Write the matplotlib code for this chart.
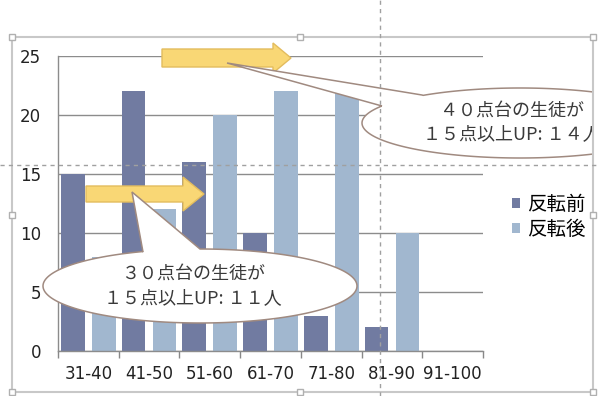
import numpy as np
import matplotlib.pyplot as plt
from matplotlib.patches import Polygon, Rectangle
from matplotlib.transforms import Affine2D

plt.rcParams['font.family'] = ['Noto Sans CJK JP', 'DejaVu Sans']

# データ
categories = ["31-40", "41-50", "51-60", "61-70", "71-80", "81-90", "91-100"]
before = [15, 22, 16, 10, 3, 2, 0]
after = [8, 12, 20, 22, 22, 10, 0]
series_names = ["反転前", "反転後"]
callout1 = ["３０点台の生徒が", "１５点以上UP: １１人"]
callout2 = ["４０点台の生徒が", "１５点以上UP: １４人"]

W, H = 599, 396
fig = plt.figure(figsize=(W / 100, H / 100), dpi=100)
fig.patch.set_facecolor("white")
px = Affine2D().scale(1 / W, 1 / H) + fig.transFigure


def P(x, y):
    # 画像座標(y下向き) -> 図のピクセル座標
    return (x, H - y)


ax = fig.add_axes([58 / W, 45 / H, 425 / W, 295 / H])
x = np.arange(len(categories))
b1 = ax.bar(x - 0.255, before, 0.39, color="#717BA1", linewidth=0, zorder=2)
b2 = ax.bar(x + 0.255, after, 0.39, color="#A1B7CF", linewidth=0, zorder=2)

ax.set_xlim(-0.5, len(categories) - 0.5)
ax.set_ylim(0, 25)
ax.set_yticks([0, 5, 10, 15, 20, 25])
ax.set_xticks(x)
ax.set_xticklabels(categories, family="DejaVu Sans")
ax.set_xticks(np.arange(-0.5, len(categories)), minor=True)
ax.tick_params(axis="x", which="major", length=0, pad=10, labelsize=12, colors="#222222")
ax.tick_params(axis="x", which="minor", length=5, width=1, color="#888888", direction="out")
ax.tick_params(axis="y", length=0, pad=12, labelsize=12, colors="#222222")
for lab in ax.get_yticklabels():
    lab.set_family("DejaVu Sans")
ax.grid(axis="y", color="#8C8C8C", linewidth=1, zorder=0)
ax.set_axisbelow(True)
for s in ["top", "right"]:
    ax.spines[s].set_visible(False)
for s in ["left", "bottom"]:
    ax.spines[s].set_color("#8C8C8C")
    ax.spines[s].set_linewidth(1)

ax.legend([b1, b2], series_names, loc="upper left", bbox_to_anchor=(502, H - 184),
          bbox_transform=px, frameon=False, fontsize=14, handlelength=0.42,
          handleheight=0.42, handletextpad=0.35, labelspacing=0.2, borderpad=0)


def arrow(x0, x1, xh, yc, hb, hh):
    pts = [P(x0, yc - hb), P(xh, yc - hb), P(xh, yc - hh), P(x1, yc),
           P(xh, yc + hh), P(xh, yc + hb), P(x0, yc + hb)]
    fig.add_artist(Polygon(pts, closed=True, transform=px, facecolor="#F9D775",
                           edgecolor="#E3BC5E", linewidth=1, zorder=5))


arrow(86, 204, 183, 194, 8, 17)
arrow(162, 291, 273, 58, 9, 15)


def callout(cx, cy, a, b, tip, base1, base2, clip=None):
    # 吹き出し: 楕円 + くさび (楕円は base1 -> base2 の長い側を回る)
    def ang(p):
        return np.arctan2(-(p[1] - cy) / b, (p[0] - cx) / a)
    t1, t2 = ang(base1), ang(base2)
    d = (t2 - t1) % (2 * np.pi)
    if d > np.pi:
        ts = np.linspace(t1, t1 + d, 240)
    else:
        ts = np.linspace(t1, t1 - (2 * np.pi - d), 240)
    pts = [P(*tip), P(*base1)]
    pts += [P(cx + a * np.cos(t), cy - b * np.sin(t)) for t in ts]
    pts += [P(*base2)]
    poly = Polygon(pts, closed=True, transform=px, facecolor="white",
                   edgecolor="#A08A80", linewidth=1.1, zorder=6)
    fig.add_artist(poly)
    if clip is not None:
        poly.set_clip_path(clip)


clip_rect = Rectangle((0, 0), 593, H, transform=px, facecolor="none", edgecolor="none")
fig.add_artist(clip_rect)

callout(200, 286, 157, 37, (132, 192), (143, 252), (200, 249))
callout(520, 123, 158, 35, (227, 63), (382, 106), (422, 95), clip=clip_rect)

for i, line in enumerate(callout1):
    fig.text(*P(193, 274 + 24 * i), line, transform=px, ha="center", va="center",
             fontsize=13, color="#3A3A3A", zorder=7)
for i, line in enumerate(callout2):
    t = fig.text(*P(512, 111 + 23 * i), line, transform=px, ha="center", va="center",
                 fontsize=13, color="#3A3A3A", zorder=7)
    t.set_clip_path(clip_rect)

# スクリーンショットの枠とガイド線
fig.add_artist(Rectangle(P(12, 392), 581, 355, transform=px, facecolor="none",
                         edgecolor="#C8C8C8", linewidth=1.5, zorder=8))
for hx, hy in [(12, 37), (300, 37), (593, 37), (12, 215), (593, 215),
               (12, 392), (300, 392), (593, 392)]:
    fig.add_artist(Rectangle(P(hx - 3, hy + 3), 6, 6, transform=px, facecolor="white",
                             edgecolor="#B0B0B0", linewidth=1, zorder=9))
fig.add_artist(plt.Line2D([0, W], [H - 165, H - 165], transform=px, color="#A0A0A0",
                          linewidth=1, linestyle=(0, (3, 3)), zorder=9))
fig.add_artist(plt.Line2D([380, 380], [0, H], transform=px, color="#A0A0A0",
                          linewidth=1, linestyle=(0, (3, 3)), zorder=9))

fig.savefig("out.png", dpi=100)
